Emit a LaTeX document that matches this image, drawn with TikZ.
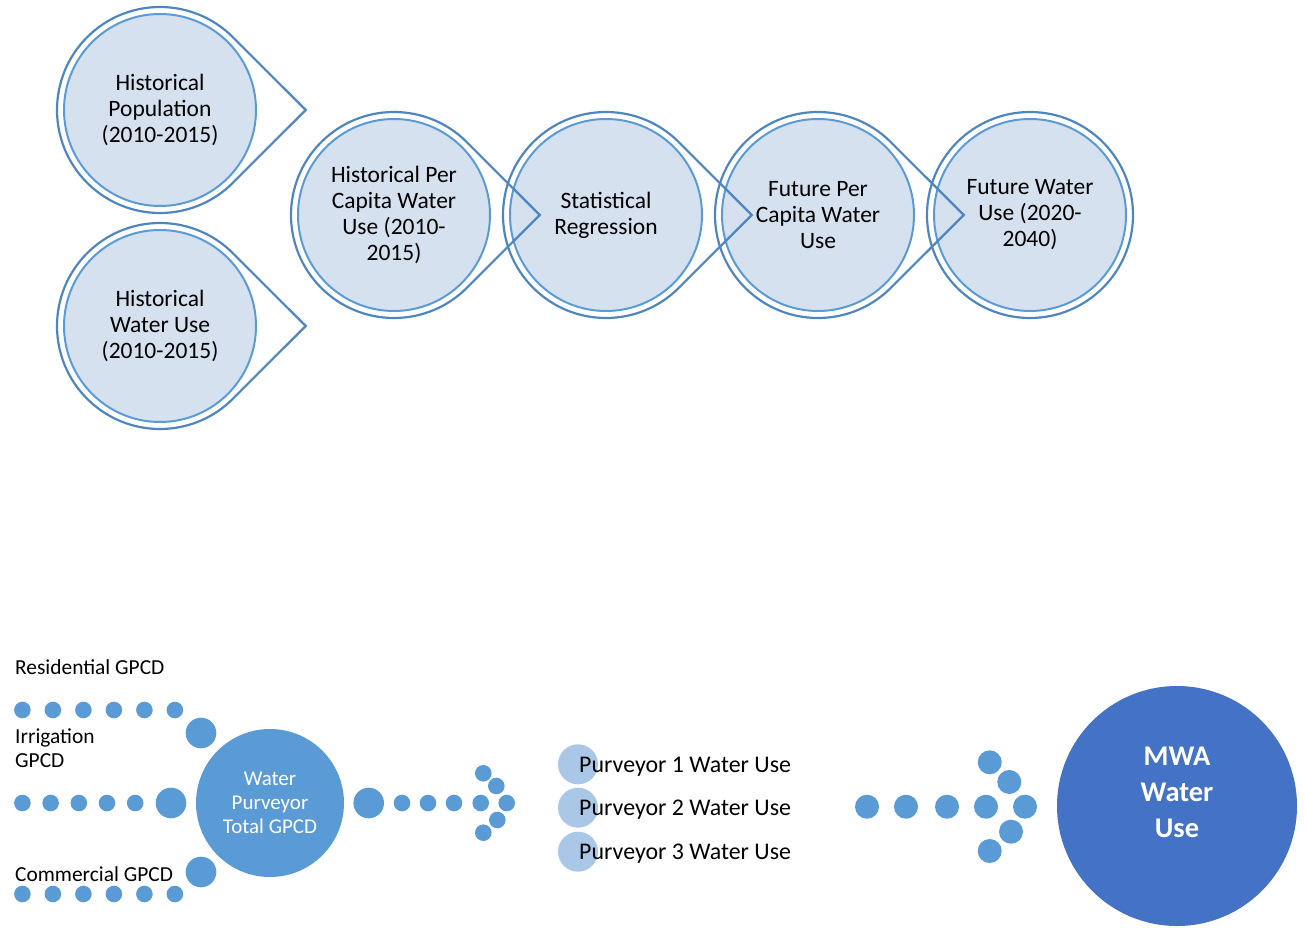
\documentclass[tikz,border=0pt]{standalone}
\usepackage{fontspec}
\setmainfont{Carlito}
\usetikzlibrary{calc}
\definecolor{ringout}{HTML}{4F86C0}
\definecolor{ringin}{HTML}{5B9BD5}
\definecolor{fillin}{HTML}{D5E1EF}
\definecolor{dotblue}{HTML}{5B9BD5}
\definecolor{mwablue}{HTML}{4472C4}
\definecolor{purv}{HTML}{AAC7E8}
\begin{document}
\begin{tikzpicture}[x=1pt,y=1pt,
  incirc/.style={circle, draw=ringin, line width=2pt, fill=fillin, minimum size=192pt, inner sep=0pt, align=center, font=\fontsize{23.5}{26}\selectfont},
  ring/.style={draw=ringout, line width=2.2pt, line join=miter},
  dot/.style={circle, fill=dotblue, minimum size=16.6pt, inner sep=0pt},
  bigdot/.style={circle, fill=dotblue, minimum size=30.6pt, inner sep=0pt},
  mdot/.style={circle, fill=dotblue, minimum size=24pt, inner sep=0pt},
  pdot/.style={circle, fill=purv, minimum size=40pt, inner sep=0pt},
  lbl/.style={anchor=base west, inner sep=0pt, align=left, font=\fontsize{21.4}{24}\selectfont},
  plbl/.style={anchor=base west, inner sep=0pt, font=\fontsize{23.9}{26}\selectfont},
]
\useasboundingbox (0,0) rectangle (1306,-928);

% ---- top: teardrop chain ----
\node[incirc] (hp) at (160,-110) {Historical\\Population\\(2010-2015)};
\node[incirc] (hw) at (160,-326) {Historical\\Water Use\\(2010-2015)};
\node[incirc] (hpc) at (394,-215) {Historical Per\\Capita Water\\Use (2010-\\2015)};
\node[incirc] (sr) at (606,-215) {Statistical\\Regression};
\node[incirc] (fpc) at (818,-215) {Future Per\\Capita Water\\Use};
\node[incirc] (fw) at (1030,-215) {Future Water\\Use (2020-\\2040)};

\foreach \n in {hp,hw,hpc,sr,fpc}{
  \draw[ring] (\n.center) ++(45:103) arc[start angle=45,end angle=315,radius=103]
     -- ($(\n.center)+(145.7,0)$) -- cycle;
}
\draw[ring] (fw.center) circle[radius=103];

% ---- bottom left: GPCD inputs ----
\node[lbl] (res) at (15,-674) {Residential GPCD};
\node[lbl] (irr) at (15,-767) {Irrigation\\GPCD};
\node[lbl] (com) at (15,-881) {Commercial GPCD};

\foreach \i in {0,...,5}{
  \node[dot] (ra\i) at ({22.4+30.5*\i},-710) {};
  \node[dot] (rc\i) at ({22.4+30.5*\i},-894) {};
}
\foreach \i in {0,...,4}{
  \node[dot] (rb\i) at ({22.4+28.2*\i},-803) {};
}
\node[bigdot] (ba) at (201,-733) {};
\node[bigdot] (bb) at (171,-803) {};
\node[bigdot] (bc) at (201,-872) {};

\node[circle, fill=dotblue, minimum size=148pt, inner sep=0pt, align=center,
      text=white, font=\fontsize{21}{24}\selectfont] (wp) at (270,-803)
      {Water\\Purveyor\\Total GPCD};

% arrow of dots to purveyors
\node[bigdot] (bd) at (368.7,-803) {};
\foreach \x [count=\k] in {402,428,454,480.7}{
  \node[dot] (ad\k) at (\x,-803) {};
}
\node[dot] (ah1) at (483.3,-773.3) {};
\node[dot] (ah2) at (496.3,-786) {};
\node[dot] (ah3) at (506.7,-803) {};
\node[dot] (ah4) at (497.3,-820) {};
\node[dot] (ah5) at (483.3,-832.7) {};

% purveyors
\node[pdot] (p1) at (578,-764.3) {};
\node[pdot] (p2) at (578,-807.7) {};
\node[pdot] (p3) at (578,-851.7) {};
\node[plbl] (t1) at (579,-772) {Purveyor 1 Water Use};
\node[plbl] (t2) at (579,-815.4) {Purveyor 2 Water Use};
\node[plbl] (t3) at (579,-859.4) {Purveyor 3 Water Use};

% arrow of dots to MWA
\foreach \x [count=\k] in {867,906,947,986,1025}{
  \node[mdot] (md\k) at (\x,-806.7) {};
}
\node[mdot] (mh1) at (989.7,-762.3) {};
\node[mdot] (mh2) at (1009.3,-782) {};
\node[mdot] (mh3) at (1011,-831.7) {};
\node[mdot] (mh4) at (989.7,-851) {};

\node[circle, fill=mwablue, minimum size=240pt, inner sep=0pt] (mwa) at (1177,-806) {};
\node[align=center, inner sep=0pt, text=white,
      font=\fontsize{28.5}{36}\selectfont\bfseries] (mwat) at (1177,-792)
      {MWA\\Water\\Use};
\end{tikzpicture}
\end{document}
